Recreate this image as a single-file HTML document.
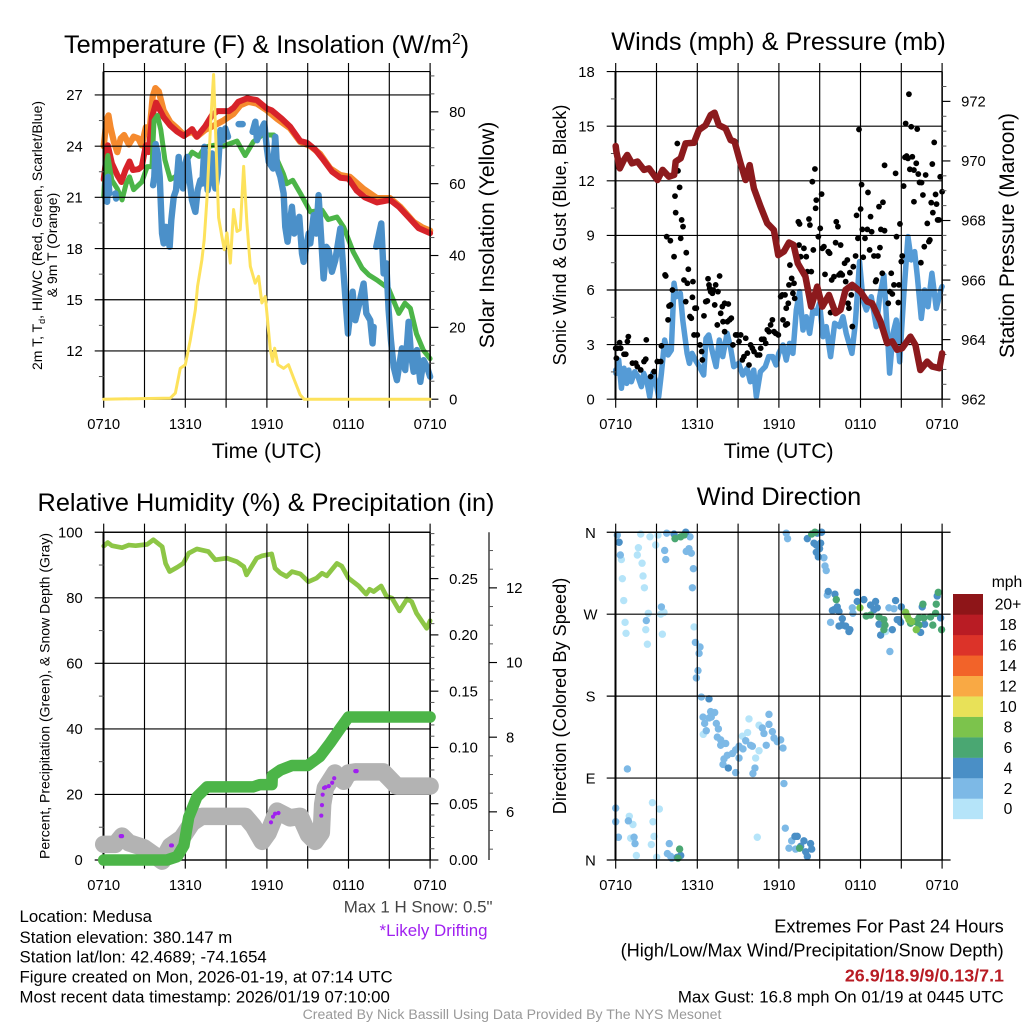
<!DOCTYPE html>
<html lang="en">
<head>
<meta charset="utf-8">
<title>Medusa Mesonet Meteogram</title>
<style>
html,body{margin:0;padding:0;background:#fff;}
svg{display:block;font-family:"Liberation Sans",sans-serif;}
text{fill:#000;}
</style>
</head>
<body>
<svg id="chart" width="1024" height="1024" viewBox="0 0 1024 1024">
<rect x="0" y="0" width="1024" height="1024" fill="#fff"/>
<g id="panel-a"></g>
<g id="panel-b"></g>
<g id="panel-c"></g>
<g id="panel-d"></g>
<g id="legend"></g>

<text x="266.5" y="53" font-size="25.3" text-anchor="middle">Temperature (F) &amp; Insolation (W/m<tspan font-size="15.5" dy="-9">2</tspan><tspan dy="9">)</tspan></text>
<text x="778.5" y="50" font-size="25.3" text-anchor="middle">Winds (mph) &amp; Pressure (mb)</text>
<text x="266" y="511" font-size="25.3" text-anchor="middle">Relative Humidity (%) &amp; Precipitation (in)</text>
<text x="779" y="505" font-size="25.3" text-anchor="middle">Wind Direction</text>

<text x="266.7" y="458" font-size="21.2" text-anchor="middle">Time (UTC)</text>
<text x="778.7" y="458" font-size="21.2" text-anchor="middle">Time (UTC)</text>

<text transform="translate(42 235.5) rotate(-90)" font-size="14" text-anchor="middle">2m T, T<tspan font-size="9" dy="3">d</tspan><tspan dy="-3">, HI/WC (Red, Green, Scarlet/Blue)</tspan></text>
<text transform="translate(57 245) rotate(-90)" font-size="14" text-anchor="middle">&amp; 9m T (Orange)</text>
<text transform="translate(494 235) rotate(-90)" font-size="21.2" text-anchor="middle">Solar Insolation (Yellow)</text>
<text transform="translate(566 235) rotate(-90)" font-size="18.2" text-anchor="middle">Sonic Wind &amp; Gust (Blue, Black)</text>
<text transform="translate(1014 235.5) rotate(-90)" font-size="20.9" text-anchor="middle">Station Pressure (Maroon)</text>
<text transform="translate(49.5 696) rotate(-90)" font-size="14" text-anchor="middle">Percent, Precipitation (Green), &amp; Snow Depth (Gray)</text>
<text transform="translate(566 696) rotate(-90)" font-size="18.2" text-anchor="middle">Direction (Colored By Speed)</text>

<g font-size="16.8">
<text x="19.5" y="922">Location: Medusa</text>
<text x="19.5" y="943">Station elevation: 380.147 m</text>
<text x="19.5" y="962.7">Station lat/lon: 42.4689; -74.1654</text>
<text x="19.5" y="982.7">Figure created on Mon, 2026-01-19, at 07:14 UTC</text>
<text x="19.5" y="1002.7">Most recent data timestamp: 2026/01/19 07:10:00</text>
</g>
<text x="492.5" y="912.7" font-size="16.9" text-anchor="end" style="fill:#444">Max 1 H Snow: 0.5"</text>
<text x="487.5" y="936" font-size="16.9" text-anchor="end" style="fill:#a020f0">*Likely Drifting</text>
<text x="1003.7" y="932.7" font-size="18.2" text-anchor="end">Extremes For Past 24 Hours</text>
<text x="1003.7" y="956.7" font-size="18.2" text-anchor="end">(High/Low/Max Wind/Precipitation/Snow Depth)</text>
<text x="1004" y="981.7" font-size="17.9" font-weight="bold" text-anchor="end" style="fill:#b81c24">26.9/18.9/9/0.13/7.1</text>
<text x="1003.7" y="1002.7" font-size="16.85" text-anchor="end">Max Gust: 16.8 mph On 01/19 at 0445 UTC</text>
<text x="512" y="1019" font-size="14.1" text-anchor="middle" style="fill:#999">Created By Nick Bassill Using Data Provided By The NYS Mesonet</text>
</svg>

<script>
// ---------- shared tick data ----------
const gridHours = [0,3,6,9,12,15,18,21,24];
const xLabelHours = [0,6,12,18,24];
const xLabels = ['0710','1310','1910','0110','0710'];

// ---------- panel A: temperature ----------
const tempTicks = [12,15,18,21,24,27];
const tempMinorTicks = [10.5,13.5,16.5,19.5,22.5,25.5];
const solarTicks = [0,20,40,60,80];
const solarMinorTicks = [5,10,15,25,30,35,45,50,55,65,70,75,85,90];

const mast9mHours = [0,0.05,0.2,0.35,0.5,0.75,1,1.25,1.5,1.85,2.2,2.55,2.8,3.1,3.4,3.6,3.8,4.05,4.4,4.9,5.4,5.9,6.5,6.85,7.45,8.1,8.8,9.55,10.05,10.65,11.25,12,12.75,13.7,14.45,15.2,15.9,16.65,17.4,18.1,19.1,20.1,21.05,21.8,22.8,23.4,24];
const mast9mTemps = [24,24.35,25.5,25.8,25.1,24.25,23.65,24.45,24.65,24.1,24.55,24.45,24.05,25.1,25.1,26.9,27.4,27.2,26.1,25.4,25.05,24.65,24.85,24.55,24.95,25.2,25.5,25.9,26.4,26.6,26.5,26.1,25.6,25.05,24.25,24,23.55,22.7,22.3,22.2,21.5,20.95,20.95,20.45,19.55,19.25,19.05];

const airTempHours = [0,0.3,0.6,1,1.3,1.6,1.9,2.15,2.55,2.8,3.1,3.3,3.55,3.85,4.4,4.9,5.4,5.9,6.5,6.85,7.45,7.95,8.35,9.2,9.55,9.9,10.55,11.25,12,12.35,13.1,13.7,14.45,14.95,15.55,16.15,16.8,17.4,18,18.6,19.2,20.1,21.05,21.7,22.4,23.15,24];
const airTemps = [22.05,24.05,23,22.3,21.9,22.6,23.1,22.6,22.65,22.8,24.05,23.65,25.7,26.55,25.7,25.2,24.85,24.6,25,24.55,25.15,25.8,26.05,26.05,26.25,26.6,26.8,26.7,26.2,26.1,25.6,25.15,24.3,24.2,23.8,23.2,22.5,22.15,22.1,21.4,21,20.7,20.85,20.45,19.85,19.2,18.9];

const dewPointHours = [0,0.05,0.3,0.6,1,1.35,1.65,1.9,2.2,2.8,3.2,3.55,3.7,3.95,4.2,4.5,4.9,5.25,5.6,6,6.5,7,7.45,8.1,8.8,9.8,10.4,11,11.65,12.5,12.75,13.2,13.45,13.9,14.45,15.2,16.05,16.5,17.15,17.65,18.35,19,19.5,20.1,20.95,21.7,22.15,22.55,23,23.5,24];
const dewPoints = [21.05,21.8,23.45,22,21.5,20.85,21.8,22.2,21.45,21.9,22.8,22.8,25.5,25.8,24.95,23.2,22.05,22.2,22.5,23,23.65,23.4,23.95,24.05,24,24.3,23.45,24.25,24.65,24.65,23.2,22.4,21.8,22,21.25,20.15,20.25,19.7,19.85,19.25,17.8,16.85,16.45,16.15,15.65,14.2,14.8,14.5,13,12.05,11.55];

const windChillHours = [0.12,0.25,0.32,0.42,null,0.86,0.91,null,3.63,3.72,3.82,3.97,4.12,4.29,4.41,4.58,4.85,4.97,5.15,5.32,5.51,5.64,5.83,6,6.13,6.32,6.49,6.74,6.91,7.11,7.25,7.4,7.64,7.84,7.96,8.21,8.38,8.58,8.77,8.94,9.14,null,9.92,10.22,null,10.95,11.15,11.27,11.56,11.81,12,12.13,12.45,12.62,12.74,12.99,13.23,13.35,13.52,13.84,14.01,14.21,14.38,14.58,14.7,15.07,15.19,15.44,15.63,15.8,15.97,16.17,16.37,16.54,16.78,17.03,17.4,17.64,17.96,18.3,18.5,18.74,19.11,19.31,19.6,19.77,19.85,null,20.04,20.41,20.58,20.78,20.95,21.12,21.32,21.56,21.93,22.17,22.42,22.59,22.79,23.03,23.28,23.52,23.77,24];
const windChills = [21.81,20.74,22.2,21.23,null,21.23,20.93,null,21.71,22.2,24.12,23.57,22.2,18.88,18.3,19.27,18.1,19.66,21.03,21.42,23.37,22.01,21.52,22.98,23.37,22.01,20.84,20.15,21.42,22.01,21.81,23.96,21.42,22.2,23.57,21.52,22.4,24.94,24.35,25.04,24.55,null,25.29,25.29,null,24.84,25.43,24.35,24.94,25.33,23.86,23.08,22.69,24.55,22.79,22.2,21.23,19.27,18.4,20.45,18.88,19.27,19.86,17.71,17.22,18.88,18.3,19.96,18.88,21.13,18.88,16.25,18.1,17.91,16.64,17.32,19.18,16.54,13.02,15.47,13.8,14.59,15.95,14.2,13.8,12.44,13.41,null,18.1,19.47,16.54,17.13,14.39,12.63,11.07,10.29,12.15,10.88,13.71,11.85,10.78,12.05,10.19,11.46,11.07,10.49];

const solarHours = [0,4.9,5.27,5.63,6,6.37,6.74,6.9,7.22,7.39,7.59,7.88,8.08,8.28,8.45,8.69,8.87,9.06,9.31,9.55,9.8,10.04,10.29,10.53,10.78,11.14,11.39,11.63,11.88,12,12.25,12.42,12.57,12.81,13.23,13.59,13.96,14.45,14.74,24];
const solarValues = [0,0.3,1.7,8.6,9.6,16.5,24.9,31.4,38.8,44.4,55.6,77.9,90.4,68.6,50.5,45.3,41.6,46.3,37.9,52.8,46.7,47.2,64.8,49,37,32.3,34.2,26.8,28.6,24,13.8,10.5,14.2,9.6,8.6,9.6,5.9,1.2,0,0];

// ---------- panel B: winds and pressure ----------
const windTicks = [0,3,6,9,12,15,18];
const windMinorTicks = [1.5,4.5,7.5,10.5,13.5,16.5];
const pressureTicks = [962,964,966,968,970,972];
const pressureMinorTicks = [962.5,963,963.5,964.5,965,965.5,966.5,967,967.5,968.5,969,969.5,970.5,971,971.5,972.5];

const windHours = [0,0.02,0.22,0.42,0.61,0.81,0.96,1.15,1.4,1.64,1.89,2.06,2.3,2.5,2.72,2.92,3.16,3.36,3.6,3.85,4.09,4.29,4.44,4.75,4.93,5.25,5.42,5.61,5.86,6.15,6.47,6.64,6.84,7.08,7.38,7.62,7.87,8.19,8.43,8.68,9.04,9.34,9.66,9.9,10.15,10.34,10.64,11,11.25,11.54,11.79,11.99,12.05,12.3,12.54,12.79,13.03,13.28,13.52,13.77,14.01,14.26,14.5,14.75,14.99,15.24,15.48,15.8,16.1,16.46,16.71,16.95,17.37,17.62,17.93,18.18,18.43,18.79,19.16,19.41,19.72,20.02,20.14,20.39,20.63,20.88,21.19,21.49,21.73,21.98,22.18,22.47,22.71,22.96,23.25,23.57,23.94,24];
const windSpeeds = [1.6,1.42,2.15,0.6,1.7,0.87,1.6,0.96,1.51,1.24,0.69,1.42,0.96,0.14,1.42,1.05,0.14,1.42,3.25,2.43,2.7,6.37,5.63,5.82,4.35,2.52,1.97,2.52,2.15,1.79,1.33,3.34,3.53,2.7,1.79,3.25,2.34,3.62,2.89,1.79,1.97,1.33,1.7,0.96,1.6,0.14,1.51,1.79,2.34,2.34,1.88,2.52,2.61,2.98,2.15,3.07,2.52,4.9,5.91,3.8,4.53,3.62,4.9,4.72,5.27,3.44,3.99,2.34,4.17,3.99,4.53,3.62,2.52,4.17,7.56,5.45,4.9,5.63,3.99,5.63,6.82,3.07,1.43,3.62,4.35,2.06,5.82,8.93,7.65,8.11,6.73,4.44,6,5.08,6.92,4.99,6.09,6.19];

const gustHours = [0,0.05,0.12,0.29,0.37,0.61,0.74,0.86,0.93,1.23,1.47,1.59,1.84,2.08,2.21,2.25,2.57,2.82,3.06,3.31,3.36,3.63,3.68,3.75,3.85,3.92,4.02,4.04,4.17,4.29,4.36,4.41,4.53,4.58,4.7,4.78,4.85,4.95,5.02,5.15,5.19,5.27,5.34,5.46,5.56,5.64,5.68,5.76,5.83,5.93,6,6.2,6.32,6.37,6.49,6.62,6.74,6.79,6.86,6.91,6.98,7.11,7.18,7.28,7.35,7.47,7.52,7.64,7.72,7.84,7.89,8.01,8.01,8.21,8.28,8.38,8.5,8.62,8.82,8.94,9.07,9.19,9.31,9.43,9.56,9.68,9.8,9.92,10.05,10.17,10.41,10.58,10.66,10.73,10.9,11.03,11.15,11.27,11.39,11.52,11.64,11.76,11.96,12.13,12.25,12.3,12.45,12.5,12.62,12.54,12.69,12.74,12.81,12.94,13.03,13.11,13.16,13.43,13.52,13.48,13.6,13.84,14.01,14.09,14.21,14.28,14.38,14.46,14.53,14.65,14.7,14.75,14.9,15.04,15.14,15.19,15.31,15.39,15.63,15.73,15.8,15.88,16.05,16.17,16.22,16.34,16.42,16.54,16.54,16.66,16.83,16.91,17.03,17.08,17.15,17.22,17.32,17.4,17.47,17.64,17.71,17.81,17.89,18.01,18.08,18.13,18.2,18.33,18.5,18.55,18.67,18.74,18.82,18.99,19.11,19.16,19.28,19.36,19.43,19.5,19.6,19.65,19.77,19.77,20.04,20.16,20.26,20.34,20.46,20.58,20.65,20.78,20.83,20.9,21,21.07,21.17,21.27,21.32,21.39,21.49,21.56,21.63,21.73,21.81,21.93,21.93,22.1,22.17,22.25,22.34,22.49,22.44,22.59,22.69,22.79,22.91,23.03,23.1,23.2,23.28,23.32,23.42,23.52,23.59,23.67,23.77,23.86,24];
const gustSpeeds = [2.8,2.25,2.8,3.11,2.8,2.47,2.47,3.17,3.44,1.98,1.98,1.79,1.61,2.07,2.2,3.26,1.24,1.52,2.07,2.07,2.93,6.83,6.77,8.93,4.36,5.12,8.71,5.18,6,7.83,11.16,10.25,14.05,12.55,11.64,8.84,9.85,9.48,6.55,5.36,8.05,6.37,7.14,4.54,4.45,5.6,6.46,3.53,5,5,3.53,2.98,2.62,2.16,4.58,5.36,5.4,6.62,6.28,6.09,5.91,5.82,6,5.18,6.28,4.08,5.91,6.77,4.72,5.09,4.26,5.27,3.71,4.26,5.23,4.36,4.45,2.98,3.53,3.53,3.17,3.53,2.16,2.34,3.35,2.53,1.88,2.98,2.8,2.62,2.43,2.43,2.8,3.29,3.29,3.07,3.81,3.71,4.08,4.36,3.71,3.62,3.53,5.64,5.73,4.36,5.73,4.08,4.14,5,5.27,6.28,7.37,6.64,5.82,6.37,5.54,9.75,9.63,8.47,7.83,8.29,7.83,7.01,9.9,9.57,7.01,11.95,8.2,12.65,10.49,10.94,8.93,9.39,11.27,8.29,8.38,6.86,8.11,8.02,4.76,6.55,6.73,8.6,9.75,9.48,6.83,8.47,6.92,6.83,7.47,6.46,7.65,5.27,5,6.95,5.73,3.99,7.28,7.87,10.1,8.84,14.82,10.45,11.79,9.33,7.8,8.84,9.33,11.36,8.2,10.03,9.2,7.87,6.46,6.55,7.87,10.58,8.33,9.33,6.92,10.82,9.26,12.85,5.27,5.91,6.92,5.78,6.28,12.41,8.93,5.31,6.28,9.63,7.56,7.87,11.71,13.29,15.15,13.36,13.23,16.76,12.63,14.97,13.32,10.85,12.59,12.96,14.84,12.37,11.91,11.9,7.5,11.22,8.38,12.32,9.66,8.66,8.75,10.8,12.92,10.25,14.11,11.25,10.72,9.85,9.85,12.22,11.4];

const pressureHours = [0,0.05,0.3,0.6,0.85,1.2,1.6,2.08,2.45,3.07,3.45,3.92,4.3,4.41,4.78,5.14,5.75,6.12,6.61,6.98,7.27,7.59,8.08,8.45,8.74,9.18,9.55,9.85,10.16,10.65,11.14,11.63,11.95,12.37,12.74,13.08,13.39,13.95,14.37,14.82,15.19,15.68,16.17,16.53,16.9,17.39,18,18.49,18.85,19.47,19.96,20.33,20.69,21.06,21.67,22.04,22.4,22.9,23.26,23.8,24];
const pressures = [970.5,970.31,969.75,970.03,970.2,969.92,969.98,969.7,969.75,969.36,969.7,969.47,969.53,969.98,970.09,970.59,970.61,971.04,971.2,971.54,971.62,971.2,971.09,970.7,970.65,969.92,969.36,969.86,969.08,968.47,967.91,967.68,966.84,966.96,967.26,967.18,966.56,966.12,965.11,965.78,965.11,965.5,964.89,965,965.67,965.84,965.61,965.28,965.22,964.61,963.88,963.94,963.66,963.71,964.1,963.82,962.98,963.26,963.1,963.04,963.54];

// ---------- panel C: humidity, precipitation, snow ----------
const humidityTicks = [0,20,40,60,80,100];
const humidityMinorTicks = [10,30,50,70,90];
const precipTicks = [0,0.05,0.1,0.15,0.2,0.25];
const precipTickLabels = ['0.00','0.05','0.10','0.15','0.20','0.25'];
const precipMinorTicks = [0.01,0.02,0.03,0.04,0.06,0.07,0.08,0.09,0.11,0.12,0.13,0.14,0.16,0.17,0.18,0.19,0.21,0.22,0.23,0.24,0.26,0.27,0.28,0.29];
const snowTicks = [6,8,10,12];
const snowMinorTicks = [5,5.5,6.5,7,7.5,8.5,9,9.5,10.5,11,11.5,12.5,13];

const humidityHours = [0,0.3,0.6,1.35,1.85,2.35,3.2,3.65,4.3,4.55,4.85,5.4,5.85,6.25,6.85,7.7,8.2,9.05,9.8,10.3,10.5,11.25,11.65,12.35,12.6,13,13.45,13.85,14.45,15.05,15.65,16.05,16.4,17.15,17.5,18,18.75,19.3,19.55,19.85,20.4,20.8,21.2,21.75,22.3,22.65,23,23.75,24];
const humidityValues = [95.8,96.85,95.9,95.3,96.1,95.9,96.3,97.7,95.6,90.5,88,89.3,90.5,93.6,94.9,94.1,91.6,92.1,91,89.5,87,92.1,92.8,93.4,89,87.5,86.5,88,87.3,84.9,86,87.5,86.7,90.5,89.7,86,83.6,81.1,82.6,81.9,83.6,80.4,79.9,76,79.6,78.8,75.3,70.7,73];

const precipHours = [0,4.65,5.4,5.9,6.25,6.85,7.6,11,11.5,12.37,12.4,13,13.85,15,15.9,16.65,17.4,18,24];
const precipValues = [0,0,0.003,0.013,0.038,0.056,0.065,0.065,0.067,0.067,0.075,0.08,0.084,0.084,0.092,0.104,0.117,0.127,0.127];

const snowHours = [0,0.85,1.35,1.85,2.95,3.65,4.3,4.9,5.75,6.5,7.2,10.4,11,11.65,12.1,12.75,13.7,14.45,15.05,15.55,16,16.1,16.3,17,17.65,18,18.5,20.55,21.55,24];
const snowDepths = [5.13,5.13,5.35,5.17,5.04,4.86,4.68,5.08,5.3,5.71,5.88,5.88,5.62,5.21,5.44,6.02,5.84,5.88,5.39,5.21,5.44,6.2,6.64,7.04,6.82,7.04,7.07,7.07,6.69,6.69];

const driftHours = [1.25,1.35,4.95,5.02,12.3,12.45,12.6,12.85,16,16.05,16.1,16.2,16.3,16.55,16.8,16.95,18.5,18.6];
const driftDepths = [5.35,5.35,5.1,5.1,5.72,5.87,5.95,5.97,5.9,6.18,6.46,6.64,6.66,6.69,6.78,6.9,7.09,7.09];

// ---------- panel D: wind direction ----------
const compassTicks = [0,90,180,270,360];
const compassLabels = ['N','E','S','W','N'];

const directionHours = [1.84,2.52,3.11,2.94,1.67,1.59,0.42,1.94,2.01,0.49,2.11,0.59,2.4,3.31,3.55,0.69,0.76,2.21,3.43,2.33,5.76,2.74,2.7,3.21,1,1.27,2.82,1.1,2.62,1.52,3.01,9.8,9.7,9.31,6.44,10.54,10.54,10.29,10.41,19.85,
0.12,0.34,3.75,5.46,3.6,3.68,5.19,5.39,5.56,5.71,5.64,3.36,2.25,5.86,6.2,6.13,6.05,5.93,6.3,6.42,6.54,6.66,6.98,7.28,7.03,6.86,7.4,7.55,7.47,7.72,8.09,7.72,7.96,7.89,8.21,8.58,8.82,9.07,9.56,9.36,9.92,10.05,9.07,8.82,10.24,10.09,10.78,10.9,11.27,11.27,11.52,11.64,11.88,12.13,12.3,11.07,0.86,0,0,0.93,1.35,0.2,1.42,3.94,3.8,4.12,4.04,12.37,12.47,12.54,12.64,15.31,15.39,15.48,15.56,15.8,17.4,17.44,20.16,20.09,20.46,12.94,12.74,13.23,
0.25,4.29,5.15,6.86,8.28,14.09,14.82,15.14,14.58,15.07,14.75,14.99,14.75,14.9,15.63,16.12,16.05,16.29,15.93,16.42,17.76,17.76,18.25,16.66,16.66,16.42,16.91,17.22,17.15,18.74,19.11,19.23,18.99,20.58,21,19.36,19.48,20.34,20.83,20.95,20.7,22.42,22.71,22.54,23.64,23.89,13.18,13.35,13.84,14.33,13.6,13.97,14.41,14.09,4.78,4.53,
4.36,4.78,5.02,4.7,4.58,13.52,14.41,14.65,16.22,18.42,18.74,19.36,19.72,19.8,19.72,21.68,22.05,22.3,22.66,23.15,23.32,23.52,23.57,22.59,23.72,23.96,22.3,
17.96,21.32,21.44,21.56,21.76,22.1];
const directionDegrees = [358,355,357,346,343,335,330,326,312,309,299,285,271,270,272,261,249,253,248,237,256,42,63,56,48,39,26,24,17,5,3,155,140,136,138,148,120,112,25,251,
357,335,359,355,340,330,339,342,337,320,299,278,263,239,234,227,208,200,179,157,150,142,163,162,157,156,150,144,135,132,128,126,111,105,115,117,121,125,131,122,126,125,112,96,101,95,145,139,160,149,141,134,130,132,123,126,100,57,42,43,25,25,18,18,7,2,4,84,35,359,353,332,323,318,291,261,277,271,229,277,276,21,13,12,
349,358,360,177,101,353,359,360,348,348,346,342,338,333,295,292,275,278,274,273,294,284,286,265,258,257,257,253,251,280,284,277,275,285,278,259,247,253,264,261,264,250,259,278,290,266,26,26,21,18,15,9,12,4,5,3,
353,355,357,12,2,13,358,360,286,268,269,267,264,258,253,260,262,258,266,267,258,271,281,281,294,253,266,
277,272,268,264,262,253];
const directionSpeeds = [1,1,1,1,1,1,1,1,1,1,1,1,1,1,1,1,1,1,1,1,1,1,1,1,1,1,1,1,1,1,1,1,1,1,1,1,1,1,1,1,
3,3,3,3,3,3,3,3,3,3,3,3,3,3,3,3,3,3,3,3,3,3,3,3,3,3,3,3,3,3,3,3,3,3,3,3,3,3,3,3,3,3,3,3,3,3,3,3,3,3,3,3,3,3,3,3,3,3,3,3,3,3,3,3,3,3,3,3,3,3,3,3,3,3,3,3,3,3,3,3,3,3,3,3,
5,5,5,5,5,5,5,5,5,5,5,5,5,5,5,5,5,5,5,5,5,5,5,5,5,5,5,5,5,5,5,5,5,5,5,5,5,5,5,5,5,5,5,5,5,5,5,5,5,5,5,5,5,5,5,5,
7,7,7,7,7,7,7,7,7,7,7,7,7,7,7,7,7,7,7,7,7,7,7,7,7,7,7,
9,9,9,9,9,9];

// ---------- legend ----------
const legendLabels = ['0','2','4','6','8','10','12','14','16','18','20+'];
const speedColors = ['#b5e4f9','#7db9e6','#4a8fc6','#4aa772','#7cc34c','#e8e158','#f9a944','#f26329','#dc3329','#b91c24','#8e1518'];

// ---------- drawing helpers ----------
const NS = 'http://www.w3.org/2000/svg';
function node(tag, parent) {
  const el = document.createElementNS(NS, tag);
  parent.appendChild(el);
  return el;
}
function xAxis(box) {
  return h => box.x0 + (h / 24) * (box.x1 - box.x0);
}
function yAxis(box, min, max) {
  return v => box.y1 - ((v - min) / (max - min)) * (box.y1 - box.y0);
}
function stroke(parent, x1, y1, x2, y2, color, width) {
  const el = node('line', parent);
  el.setAttribute('x1', x1);
  el.setAttribute('y1', y1);
  el.setAttribute('x2', x2);
  el.setAttribute('y2', y2);
  el.setAttribute('stroke', color);
  el.setAttribute('stroke-width', width);
  return el;
}
function label(parent, x, y, str, anchor, size) {
  const el = node('text', parent);
  el.setAttribute('x', x);
  el.setAttribute('y', y);
  el.setAttribute('text-anchor', anchor);
  el.setAttribute('font-size', size);
  el.textContent = str;
  return el;
}
function series(parent, hours, values, sx, sy, color, width, name) {
  let d = '';
  let pen = false;
  hours.forEach((h, i) => {
    if (h === null || values[i] === null) { pen = false; return; }
    d += (pen ? 'L' : 'M') + sx(h).toFixed(2) + ' ' + sy(values[i]).toFixed(2);
    pen = true;
  });
  const el = node('path', parent);
  el.setAttribute('d', d);
  el.setAttribute('fill', 'none');
  el.setAttribute('stroke', color);
  el.setAttribute('stroke-width', width);
  el.setAttribute('stroke-linecap', 'round');
  el.setAttribute('stroke-linejoin', 'round');
  
  
  return el;
}
function dots(parent, hours, values, sx, sy, color, radius, name) {
  hours.forEach((h, i) => {
    const c = node('circle', parent);
    c.setAttribute('cx', sx(h).toFixed(2));
    c.setAttribute('cy', sy(values[i]).toFixed(2));
    c.setAttribute('r', radius);
    c.setAttribute('fill', color);
    
    
  });
}
function frame(parent, box, sx) {
  const g = node('g', parent);
  
  
  gridHours.forEach(h => {
    const v = stroke(g, sx(h), box.y0 - 8.6, sx(h), box.y1 + 8.6, '#000', 1.15);
    
    
  });
  const l = stroke(g, box.x0 - 0.2, box.y0, box.x0 - 0.2, box.y1, '#000', 2);
  
  
  const r = stroke(g, box.x1, box.y0, box.x1, box.y1, '#000', 1.5);
  
  
  const t = stroke(g, box.x0, box.y0, box.x1, box.y0, '#000', 1.15);
  
  
  const b = stroke(g, box.x0, box.y1, box.x1, box.y1, '#000', 1.15);
  
  
  xLabelHours.forEach((h, i) => {
    const tx = label(g, sx(h), box.y1 + 30, xLabels[i], 'middle', 14.8);
    
    
  });
}
function leftAxis(parent, box, sy, ticks, minors, labels) {
  ticks.forEach((v, i) => {
    const ln = stroke(parent, box.x0 - 9, sy(v), box.x1, sy(v), '#000', 1.15);
    
    
    const tx = label(parent, box.x0 - 21, sy(v) + 5.2, labels ? labels[i] : String(v), 'end', 14.8);
    
    
  });
  minors.forEach(v => {
    const ln = stroke(parent, box.x0 - 4.8, sy(v), box.x0, sy(v), '#555', 1);
    
    
  });
}
function rightAxis(parent, box, sy, ticks, minors, labels) {
  ticks.forEach((v, i) => {
    const ln = stroke(parent, box.x1, sy(v), box.x1 + 8.3, sy(v), '#000', 1.15);
    
    
    const tx = label(parent, box.x1 + 19, sy(v) + 5.2, labels ? labels[i] : String(v), 'start', 14.8);
    
    
  });
  minors.forEach(v => {
    const ln = stroke(parent, box.x1, sy(v), box.x1 + 4.3, sy(v), '#555', 1);
    
    
  });
}

// ---------- panel geometry ----------
const boxA = {x0: 103.7, x1: 430.1, y0: 71.6, y1: 399.2};
const boxB = {x0: 615.7, x1: 942.1, y0: 71.6, y1: 399.2};
const boxC = {x0: 103.7, x1: 430.1, y0: 532.25, y1: 860};
const boxD = {x0: 615.7, x1: 942.1, y0: 532.25, y1: 860};

// ---------- panel A ----------
(function () {
  const g = document.getElementById('panel-a');
  const sx = xAxis(boxA);
  const syT = yAxis(boxA, 9.173, 28.368);
  const syS = yAxis(boxA, 0, 91.2);
  series(g, mast9mHours, mast9mTemps, sx, syT, '#f58a2e', 6.3, 'orange-9m-temperature-line');
  series(g, airTempHours, airTemps, sx, syT, '#d7232a', 6, 'red-2m-temperature-line');
  series(g, dewPointHours, dewPoints, sx, syT, '#4cb548', 5, 'green-dew-point-line');
  series(g, windChillHours, windChills, sx, syT, '#4b90c9', 6.4, 'blue-wind-chill-line');
  frame(g, boxA, sx);
  leftAxis(g, boxA, syT, tempTicks, tempMinorTicks);
  rightAxis(g, boxA, syS, solarTicks, solarMinorTicks);
  series(g, solarHours, solarValues, sx, syS, '#fde25c', 3, 'yellow-solar-insolation-line');
})();

// ---------- panel B ----------
(function () {
  const g = document.getElementById('panel-b');
  const sx = xAxis(boxB);
  const syW = yAxis(boxB, 0, 18);
  const syP = yAxis(boxB, 962, 973);
  series(g, windHours, windSpeeds, sx, syW, '#559bd6', 5.5, 'blue-sonic-wind-line');
  dots(g, gustHours, gustSpeeds, sx, syW, '#000', 2.9, 'gust-point');
  frame(g, boxB, sx);
  leftAxis(g, boxB, syW, windTicks, windMinorTicks);
  rightAxis(g, boxB, syP, pressureTicks, pressureMinorTicks);
  series(g, pressureHours, pressures, sx, syP, '#8c1a1d', 6.5, 'maroon-pressure-line');
})();

// ---------- panel C ----------
(function () {
  const g = document.getElementById('panel-c');
  const sx = xAxis(boxC);
  const syH = yAxis(boxC, 0, 100);
  const syR = yAxis(boxC, 0, 0.2912);
  const syD = yAxis(boxC, 4.71, 13.49);
  series(g, humidityHours, humidityValues, sx, syH, '#8dc646', 4.7, 'green-humidity-line');
  frame(g, boxC, sx);
  leftAxis(g, boxC, syH, humidityTicks, humidityMinorTicks);
  rightAxis(g, boxC, syR, precipTicks, precipMinorTicks, precipTickLabels);
  series(g, snowHours, snowDepths, sx, syD, '#b3b3b3', 17.5, 'gray-snow-depth-line');
  series(g, precipHours, precipValues, sx, syR, '#4cb548', 11.5, 'green-precipitation-line');
  dots(g, driftHours, driftDepths, sx, syD, '#a020f0', 2.1, 'drifting-snow-point');
  const ax = node('g', g);
  
  
  const axisX3 = 489;
  const spine = stroke(ax, axisX3, boxC.y0, axisX3, boxC.y1, '#333', 1.4);
  
  
  snowTicks.forEach(v => {
    const tick = stroke(ax, axisX3, syD(v), axisX3 + 8, syD(v), '#000', 1.15);
    
    
    const tx = label(ax, axisX3 + 17, syD(v) + 5.2, String(v), 'start', 14.8);
    
    
  });
  snowMinorTicks.forEach(v => {
    const tick = stroke(ax, axisX3, syD(v), axisX3 + 4, syD(v), '#555', 1);
    
    
  });
})();

// ---------- panel D ----------
(function () {
  const g = document.getElementById('panel-d');
  const sx = xAxis(boxD);
  const sy = yAxis(boxD, 0, 360);
  directionHours.forEach((h, i) => {
    const c = node('circle', g);
    c.setAttribute('cx', sx(h).toFixed(2));
    c.setAttribute('cy', sy(directionDegrees[i]).toFixed(2));
    c.setAttribute('r', 3.7);
    c.setAttribute('fill', speedColors[Math.floor(directionSpeeds[i] / 2)]);
    
    
  });
  frame(g, boxD, sx);
  compassTicks.forEach((v, i) => {
    const ln = stroke(g, boxD.x0 - 9, sy(v), boxD.x1 + 8.5, sy(v), '#000', 1.15);
    
    
    const tx = label(g, 590.5, sy(v) + 5.5, compassLabels[i], 'middle', 14.8);
    
    
  });
})();

// ---------- legend ----------
(function () {
  const g = document.getElementById('legend');
  const top = 594;
  const boxH = 20.45;
  legendLabels.forEach((str, i) => {
    const row = legendLabels.length - 1 - i;
    const r = node('rect', g);
    r.setAttribute('x', 953);
    r.setAttribute('y', top + row * boxH);
    r.setAttribute('width', 30);
    r.setAttribute('height', boxH + 0.2);
    r.setAttribute('fill', speedColors[i]);
    
    
    const tx = label(g, 1008, top + row * boxH + boxH / 2 + 5.5, str, 'middle', 15.7);
    
    
  });
  const unit = label(g, 1007, 587, 'mph', 'middle', 15.7);
  
  
})();
</script>
</body>
</html>
